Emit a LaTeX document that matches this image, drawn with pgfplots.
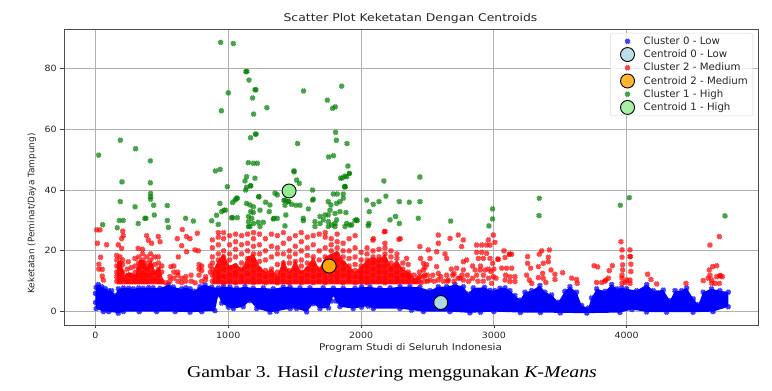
\documentclass[border=0pt]{standalone}
\usepackage{pgfplots}
\usepackage{pgfplotstable}
\pgfplotsset{compat=1.18}
\usepackage{fontspec}
\setmainfont{DejaVu Sans}
\newfontfamily\capfont{Liberation Serif}
\pgfplotstableread[row sep=\\]{
x y\\
0 6\\ 5 8\\ 21 8.9\\ 46 8.2\\ 72 7.6\\ 97 6.9\\ 122 6.9\\ 147 5.3\\ 172 7.5\\ 210 7.8\\ 250 7.7\\ 285 7.5\\ 325 7.8\\ 360 7.7\\ 400 7.9\\ 435 7.8\\ 486 7.7\\ 548 8.8\\ 586 8.1\\ 649 7.5\\ 680 7.8\\ 712 7.5\\ 737 6.7\\ 787 8.2\\ 825 8.8\\ 875 8.1\\ 925 7.8\\ 963 8.2\\ 1013 8.1\\ 1063 7.7\\ 1126 8.2\\ 1188 7.7\\ 1264 7.8\\ 1339 7.5\\ 1414 8.1\\ 1465 8\\ 1540 7.8\\ 1615 7.8\\ 1715 7.8\\ 1791 7.7\\ 1866 7.7\\ 1954 7.7\\ 2004 8.1\\ 2067 8.1\\ 2142 7.7\\ 2218 7.8\\ 2293 8.2\\ 2368 8.2\\ 2443 8\\ 2519 6.9\\ 2581 8.2\\ 2644 8.2\\ 2707 8.9\\ 2770 8.2\\ 2808 5.8\\ 2845 7.8\\ 2930 8\\ 2971 7\\ 3008 6.9\\ 3046 7.7\\ 3084 7.8\\ 3121 6.9\\ 3159 5.3\\ 3197 3.8\\ 3234 6.4\\ 3285 6.9\\ 3347 8.6\\ 3385 6.4\\ 3435 5.5\\ 3485 3.1\\ 3535 6.7\\ 3573 8.2\\ 3623 6.4\\ 3661 2\\ 3711 1.2\\ 3736 4.5\\ 3774 7.5\\ 3837 6.7\\ 3887 8.9\\ 3925 7.5\\ 3963 7.8\\ 4000 7.5\\ 4075 6.9\\ 4151 8.9\\ 4201 6.9\\ 4276 7.1\\ 4326 3.6\\ 4364 6.9\\ 4414 6.9\\ 4452 7.8\\ 4502 4.2\\ 4540 2.3\\ 4576 6.4\\ 4639 7.5\\ 4702 6.9\\ 4765 6.4\\
4765 1.6\\ 4650 0\\ 4500 -0.2\\ 4300 -0.2\\ 4150 -0.1\\ 4040 0.7\\ 3950 -0.3\\ 3700 -0.5\\ 3500 -0.4\\ 3350 -0.3\\ 3200 -0.3\\ 3000 0\\ 2900 -0.2\\ 2820 -0.4\\ 2669 0\\ 2469 0\\ 2380 0.5\\ 2293 1\\ 2092 1\\ 2054 1.8\\ 2004 1.5\\ 1941 1\\ 1841 1.6\\ 1810 3.5\\ 1791 5.5\\ 1775 3.5\\ 1755 1.2\\ 1690 1\\ 1640 2.6\\ 1590 -0.1\\ 1515 1\\ 1465 1\\ 1364 0.1\\ 1314 -0.2\\ 1214 1\\ 1163 3.6\\ 1113 1.6\\ 1038 1\\ 1000 1.5\\ 950 2.8\\ 925 5.5\\ 900 0.3\\ 800 0\\ 712 -0.2\\ 600 0\\ 460 0\\ 330 0\\ 210 0\\ 172 -0.5\\ 100 0\\ 59 0\\ 5 1\\ 0 3\\
}\bluetab
\pgfplotstableread[row sep=\\]{
x y\\
880 13\\ 925 17\\ 965 19\\ 1010 15\\ 1055 16\\ 1100 14\\ 1145 18\\ 1190 19\\ 1235 15\\ 1280 13\\ 1325 14\\ 1370 12\\ 1415 17\\ 1460 13\\ 1505 17\\ 1550 13\\ 1595 15\\ 1640 18\\ 1685 14\\ 1730 18\\ 1775 19\\ 1820 20\\ 1865 17\\ 1910 15\\ 1955 13\\ 2000 15\\ 2045 17\\ 2090 18\\ 2135 17\\ 2180 19\\ 2225 15\\ 2270 17\\ 2315 14\\ 2355 13\\ 2400 11\\ 2430 11\\ 2430 9\\ 880 9\\
}\redmassa
\pgfplotstableread[row sep=\\]{
x y\\
160 9\\ 160 16\\ 190 17\\ 220 12\\ 250 13\\ 300 12\\ 330 17\\ 360 17\\ 390 15\\ 420 17\\ 450 13\\ 480 15\\ 500 12\\ 520 9\\
}\redmassb
\definecolor{gridc}{HTML}{B0B0B0}
\definecolor{lightblue0}{HTML}{ADD8E6}
\definecolor{orange0}{HTML}{FFA500}
\definecolor{green0}{HTML}{008000}
\definecolor{lightgreen0}{HTML}{90EE90}
\begin{document}
\begin{tikzpicture}[x=1pt,y=1pt]
\path[use as bounding box] (0,0) rectangle (772,391);
\begin{axis}[
 at={(64pt,66pt)}, anchor=south west, width=694pt, height=296pt, scale only axis,
 xmin=-237, xmax=4989, ymin=-4.4, ymax=93,
 xtick={0,1000,2000,3000,4000}, ytick={0,20,40,60,80},
 scaled x ticks=false, x tick label style={/pgf/number format/1000 sep={}},
 /pgf/number format/assume math mode=true,
 tick label style={font=\fontsize{8.6}{10}\selectfont, text=black!85, xscale=1.1},
 tick style={black!75, line width=.7pt}, tick align=outside, major tick length=3.5pt,
 xtick pos=bottom, ytick pos=left,
 grid=major, grid style={gridc, line width=.9pt},
 axis line style={black!70, line width=.9pt},
 legend style={at={(0.9928,0.9865)}, anchor=north east, draw=black!15, rounded corners=1.5pt, fill=white, fill opacity=.8, text opacity=1, font=\fontsize{10.2}{11}\selectfont, row sep=-.4pt, inner ysep=1.5pt, inner xsep=3pt, text=black!85},
 legend cell align=left,
 legend image code/.code={\draw[#1] plot coordinates {(10pt,0pt)}; \path (-4pt,0pt) (24pt,0pt);},
 clip=true,
]
\addplot[forget plot, draw=none, fill=blue] table {\bluetab} -- cycle;
\addplot[only marks, mark=x, mark size=2.6pt, color=blue, opacity=.75, mark options={line width=2.8pt}] table {\bluetab};
\addlegendentry{Cluster 0 - Low}
\addplot[only marks, mark=*, mark size=7pt, mark options={draw=black, fill=lightblue0, line width=.9pt}] coordinates {(2600,3)};
\addlegendentry{Centroid 0 - Low}
\addplot[forget plot, draw=none, fill=red, fill opacity=.9] table {\redmassa} -- cycle;
\addplot[forget plot, draw=none, fill=red, fill opacity=.9] table {\redmassb} -- cycle;
\addplot[only marks, mark=x, mark size=2.6pt, color=red, opacity=.72, mark options={line width=2.8pt}] coordinates {
(9,26.9)(34,26.9)(14,22.5)(84,22)(39,17.9)(26,15.6)(51,13.9)(51,11.7)(59,10.4)(25,14)
(160,10)(160,11.5)(160,13)(160,15)(160,17)(160,18.5)(185,10)(185,12)(185,14)(185,16)(185,18)
(205,10.5)(205,13)(205,15.5)(205,17)(172,22)(197,20.8)(197,24)(205,26.5)(210,25)
(240,10)(240,12)(240,14)(247,16.4)(270,10)(270,12)(270,14.5)
(300,10)(300,11.5)(300,13)(300,15)(297,17.5)(325,10)(325,12)(325,14)(325,16)(325,18)(322,20.8)
(355,10)(355,11)(355,12.5)(355,15)(355,17)(355,19)(355,20.5)(385,10)(385,12)(385,14)(385,16)(385,18)(385,25)(398,23.5)
(415,10)(415,12)(415,15)(415,17)(415,19)(423,22.5)(445,10.5)(445,13)(445,15.5)(445,18)
(475,10)(475,12)(475,14)(475,16)(473,18)(473,24.7)(486,23)(500,10)(500,13)(500,15)(530,9.5)
(561,11.5)(560,10)(568,14.8)(590,11)(590,13)(590,15)(620,10)(620,12)(620,13)(624,18)(616,24)
(650,9.5)(650,11)(649,21.7)(686,19.7)(680,10)(680,11.5)(654,27)(686,24.7)(712,24)(720,10)(720,12)(767,25.8)
(749,20.3)(774,20)(750,9.5)(780,14)(780,15.5)(780,12)(800,10)(800,15)(800,13.5)(830,10.5)(830,11.5)(865,13)(865,15)
(880,10)(880,12)(880,14)(880,16)(880,18)(880,21)(880,23.6)
(925,10)(925,11.5)(925,13)(925,15)(925,17)(925,19)(925,22)(925,24.5)(925,26)
(965,9.5)(965,11.5)(965,14)(965,16)(965,18)(965,20)(965,24)(965,26)
(1010,10)(1010,12)(1010,14.5)(1010,17)(1010,19)(1010,22)(1010,25)
(1055,9.5)(1055,12)(1055,13)(1055,15)(1055,18)(1055,20.5)(1055,23)(1055,25.5)
(1100,10)(1100,11.5)(1100,14)(1100,16)(1100,19)(1100,22)(1100,25)
(1145,10)(1145,12.5)(1145,15)(1145,17.5)(1145,20)(1145,22.5)(1145,25.5)
(1190,9.5)(1190,11)(1190,13)(1190,15)(1190,17)(1190,19)(1190,21.5)(1190,24)(1190,26)
(1235,10)(1235,12)(1235,14)(1235,16.5)(1235,19)(1235,22)(1235,25.5)
(1280,9.5)(1280,11.5)(1280,13.5)(1280,17)(1280,20)(1280,24)
(1325,10)(1325,12)(1325,14)(1325,18)(1325,21.5)(1325,25.5)
(1370,9.5)(1370,11)(1370,13)(1370,15.5)(1370,19)(1370,21)(1370,25)
(1415,10)(1415,12)(1415,14)(1415,16)(1415,19)(1415,22.5)(1415,26)
(1460,9.5)(1460,11.5)(1460,13.5)(1460,16)(1460,18)(1460,20)(1460,24)
(1505,10)(1505,12)(1505,14)(1505,16.5)(1505,19)(1505,21.5)(1505,25)
(1550,9.5)(1550,11)(1550,13)(1550,15)(1550,17)(1550,20)(1550,23)(1550,26)
(1595,10)(1595,12)(1595,14)(1595,16)(1595,18.5)(1595,21)(1595,24.5)
(1640,9.5)(1640,11.5)(1640,13.5)(1640,15.5)(1640,18)(1640,22)(1640,25)
(1685,10)(1685,12)(1685,14)(1685,17)(1685,20)(1685,25.5)
(1730,9.5)(1730,11)(1730,13)(1730,15)(1730,18)(1730,21)(1730,24.5)(1730,26)
(1775,10)(1775,12)(1775,14)(1775,16)(1775,18)(1775,20)(1775,22)(1775,24)
(1820,10)(1820,11.5)(1820,13)(1820,15)(1820,17)(1820,19)(1820,21)(1820,23)(1820,25.5)
(1865,9.5)(1865,12)(1865,14)(1865,16)(1865,18)(1865,20)(1865,22.5)
(1910,10)(1910,11.5)(1910,13)(1910,15)(1910,17.5)(1910,20)(1910,24)
(1955,9.5)(1955,11.5)(1955,13.5)(1955,15.5)(1955,18)(1955,21)(1955,25)
(2000,10)(2000,11.5)(2000,13)(2000,15)(2000,17)(2000,19.5)
(2045,9.5)(2045,11)(2045,13)(2045,15)(2045,17)(2045,19)(2045,21)
(2090,10)(2090,12)(2090,14)(2090,16)(2090,18)(2090,20)(2090,23.5)(2092,24)
(2135,10)(2135,11)(2135,13)(2135,15)(2135,17)(2135,18)(2135,20.5)
(2180,9.5)(2180,11)(2180,13)(2180,15)(2180,17)(2180,19)(2180,21)(2180,22.5)(2175,26.3)(2180,26.4)
(2225,10)(2225,12)(2225,14)(2225,16)(2225,18)(2225,20)
(2270,10)(2270,11)(2270,13)(2270,15)(2270,17.5)(2270,19)(2285,23.8)(2295,24)
(2315,10)(2315,12)(2315,14)(2315,16)(2355,10)(2355,11.5)(2355,13)(2355,15.5)(2343,17.5)
(2400,10)(2400,12)(2368,12)(2440,10)(2440,11.5)(2440,13)(2443,21.4)(2480,10)(2480,12)(2480,14.5)(2448,17.5)
(2469,15.9)(2469,13.7)(2494,15.4)(2582,25.2)(2582,22.5)(2506,20.3)(2569,19.7)(2519,17.5)(2569,14.8)(2582,12.6)(2645,12)(2657,10.4)(2670,24.1)(2632,19)(2645,17.5)(2732,25.2)(2770,23.6)(2757,21.4)(2770,16.4)(2720,14.3)(2795,17)(2770,13.7)(2745,11)(2770,10.4)
(2431,11)(2469,11.5)(2519,10.4)(2582,10.4)(2540,12)(2620,10)(2700,10)(2690,12)(2810,10)(2870,21.9)(2908,21.9)(2945,21.9)(2870,19.5)(2908,19.5)(2945,19.2)(2883,17.5)(2921,17.5)(2858,13.7)(2896,13.7)(2933,13.7)(2870,12)(2921,12)(2958,23.6)(2971,17.5)
(2450,9.5)(2500,12)(2500,10)(2550,10)(2600,11.5)(2650,10)(2680,14)(2700,12.5)(2730,11)(2760,12)(2800,12)(2840,11)(2880,10)(2920,10)(2960,11)(2960,14)(2900,15)(2840,15)(3000,14)
(2996,25.2)(3008,22.8)(2971,21.9)(2991,15.9)(2978,13.2)(2996,11.5)(3016,11)(2983,9.3)(3033,17.2)(3030,17.3)(3076,20)(3084,17.8)(3116,18.9)(3120,18.9)(3134,18.9)(3059,14.3)(3096,14.3)(3134,14.3)(3088,12)(3121,11.5)(3159,11.5)(3084,10.4)(3121,9.9)(3159,9.9)(3254,18.1)(3254,15.9)(3277,14.3)(3247,12)(3267,10.4)(3285,9.3)(3342,18.9)(3360,20)(3418,20.3)(3410,17.9)(3410,16.4)(3372,15.9)(3335,14.8)(3367,12.6)(3335,11.2)(3372,11)(3392,9.6)(3430,13.7)(3460,12.3)(3460,10.6)(3518,12.8)(3586,11)(3623,10.6)(3628,9.3)(3754,15.1)(3782,14.7)(3774,9.6)(3812,9.6)(3844,10.4)(3862,11)(3835,10)(3869,13.5)(3892,15.1)
(3957,23)(3965,20.3)(3965,17.9)(3970,15.4)(3970,13.7)(3965,12)(3965,11)(3965,9.3)(3987,9.6)(4025,20.3)(4025,18.1)(4028,18.1)(4032,15.6)(4032,13.2)(4025,10.4)(4025,9.3)(4000,10.4)(4158,12.3)(4183,10.6)(4226,9.1)(4447,9.3)(4577,10.2)(4627,21.9)(4698,24.7)(4678,15.1)(4648,14.8)(4622,13.7)(4627,12)(4640,10.4)(4678,11.5)(4702,11.8)(4706,11.8)(4720,11.5)(4640,9.3)(4665,9.3)(4698,9.3)(4614,11)
};
\addlegendentry{Cluster 2 - Medium}
\addplot[only marks, mark=*, mark size=7pt, mark options={draw=black, fill=orange0, line width=.9pt}] coordinates {(1760,15)};
\addlegendentry{Centroid 2 - Medium}
\addplot[only marks, mark=x, mark size=2.6pt, color=green0, opacity=.72, mark options={line width=2.8pt}] coordinates {
(942,88.6)(1038,88.2)(1133,79)(1140,79)(1156,76.2)(1201,73)(1208,73)(1000,72)(1183,70.3)(1567,72.6)(1854,74.2)(1746,69.6)(1806,67.4)(1786,66.9)(1291,67.1)(948,66.1)(1191,65)(1808,59)(1204,58.4)(1210,58.4)(1168,57.2)(1814,56.4)(187,56.4)(1522,55.3)(1894,55.3)(302,53.6)(24,51.5)(1756,50.9)(1792,51.3)(413,49.6)(1151,49)(1189,48.8)(1219,48.8)(1901,47.9)(938,46.8)(903,46.3)(1495,46.3)(1912,45.4)(1892,44.4)(1859,44)(200,42.7)(413,42.4)(1168,41.4)(993,41.1)(1876,41.1)(1880,41.1)(1131,40)(415,38.9)(415,37.8)(415,37)(1068,37.3)(1229,37.8)(1635,36.7)(1419,36.6)(1455,36.2)(187,36.2)(298,34.5)(438,35)(541,34.9)
(1138,44.4)(1201,43.9)(1126,43)(1169,41.4)(1138,40.9)(1495,46)(1515,43.3)(1535,42.2)(1352,39)(1369,38.4)(1635,40)(1879,41.1)(2172,43)(1846,43.9)(1879,44.6)(1912,45.5)(1791,38.7)(1821,38.7)(1866,38.7)(1866,37.3)(1640,37)(1427,36.7)(1452,36.2)(1063,37.3)(1051,36.7)(1033,35.9)(1231,37.8)(1281,36)(1138,35.6)(1163,35.1)(1189,34.5)(1314,35.1)(1309,32.9)(1427,35)(1477,35.3)(1510,35)(1540,35)(1753,36.2)(1773,35.1)(1816,35.6)(1841,36.2)(1603,33.8)(1239,33.4)(1169,32.9)(1189,32.6)(1152,31.3)(1177,30.7)(1189,29)(1033,30.9)(1068,30.9)(937,35.6)(967,33.4)(950,32.9)(1344,30.7)(1369,30.7)(1434,31.8)(1565,30.7)(1565,29.9)(1427,28.2)(1152,29.6)(1152,28)(1226,29.4)(1264,29.4)(1239,28)(1653,29.6)(1653,28)(1691,31.3)(1728,31.8)(1753,31.8)(1766,33.4)(1804,32.3)(1841,32.9)(1886,32.6)(1816,30.2)(1753,29.6)(1778,28.5)(1804,29)(1753,28)(1804,28)(1891,29)(1916,28.5)(1966,30.2)(1879,28)(1691,29)(1716,30.2)
(2042,36.7)(2092,35.3)(2135,36.2)(2187,38)(2288,36.2)(2363,36)(2444,36.2)(2062,32.9)(2059,29)(2054,28.3)(2218,30.2)(2260,31.3)(2288,29)(2431,30.7)(2443,44.3)(2675,29.8)(2990,33.8)(2990,30.5)(2963,28.2)(3340,31.6)(3342,37.3)(3952,35)(4020,37.5)(4740,31.5)(1954,30)(1971,30)(1929,28.5)(54,28.6)(164,27.6)(179,30)(209,30)(322,29)(372,30.7)(380,30.7)(443,31.8)(541,30)(549,27.7)(679,30.7)(737,29.8)(875,29.9)(925,28.7)(912,31.7)(980,33.4)(1025,30.9)(1163,28)(1339,30.5)
};
\addlegendentry{Cluster 1 - High}
\addplot[only marks, mark=*, mark size=7pt, mark options={draw=black, fill=lightgreen0, line width=.9pt}] coordinates {(1458,39.7)};
\addlegendentry{Centroid 1 - High}
\end{axis}
\node[font=\fontsize{10.6}{12}\selectfont, text=black!85, xscale=1.17] at (410.5,372) {Scatter Plot Keketatan Dengan Centroids};
\node[font=\fontsize{9.2}{10}\selectfont, text=black!85, xscale=1.125] at (410.5,43) {Program Studi di Seluruh Indonesia};
\node[font=\fontsize{8.9}{10}\selectfont, text=black!85, rotate=90] at (32,177.5) {Keketatan (Peminat/Daya Tampung)};
\node[font=\capfont\fontsize{16.5}{18}\selectfont, text=black, xscale=1.2] at (392,17) {Gambar 3. Hasil \textit{cluster}ing menggunakan \textit{K-Means}};
\end{tikzpicture}
\end{document}
